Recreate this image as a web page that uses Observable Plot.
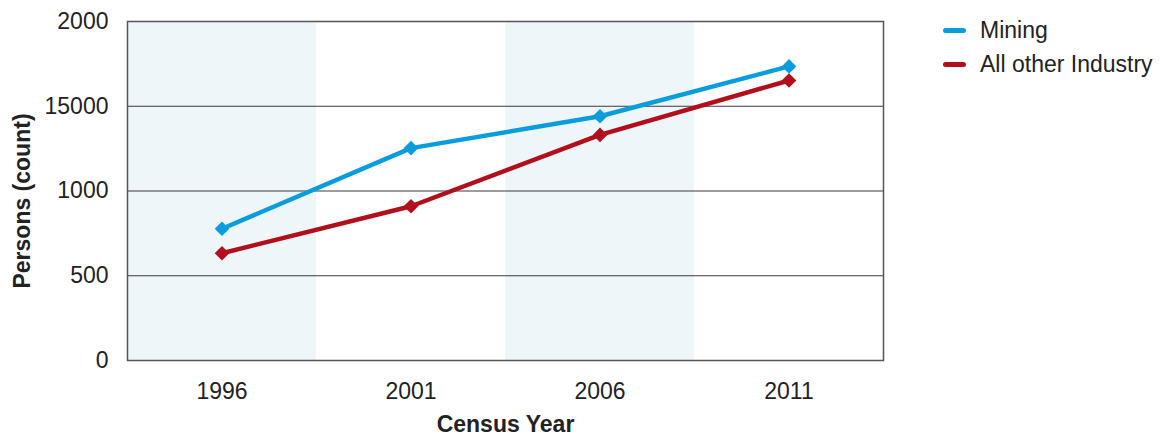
<!DOCTYPE html>
<html>
<head>
<meta charset="utf-8">
<script src="https://cdn.jsdelivr.net/npm/d3@7"></script>
<script src="https://cdn.jsdelivr.net/npm/@observablehq/plot@0.6"></script>
<style>
  html, body { margin: 0; padding: 0; background: #fff; }
  #wrap { position: relative; width: 1160px; height: 439px; font-family: "Liberation Sans", Arial, Helvetica, sans-serif; }
  #legend { position: absolute; left: 943px; top: 13px; font-size: 23px; color: #222; }
  .row { display: flex; align-items: center; height: 34px; }
  .sw { width: 23px; height: 5px; border-radius: 3px; margin-right: 14px; }
</style>
</head>
<body>
<div id="wrap"><div id="chart"></div><div id="legend"></div></div>
<script>
const years = [1996, 2001, 2006, 2011];
const mining = [777, 1253, 1441, 1735];
const otherIndustry = [633, 910, 1331, 1652];
const seriesNames = ["Mining", "All other Industry"];
const seriesColors = ["#0a9ddd", "#b20f1c"];
const shadedYears = [1996, 2006];
const yTicks = [0, 500, 1000, 1500, 2000];
const yTickLabels = ["0", "500", "1000", "15000", "2000"];
const gridValues = [500, 1000, 1500];

const half = (years[1] - years[0]) / 2;
const data = [];
years.forEach((yr, i) => {
  data.push({year: yr, value: mining[i], series: seriesNames[0]});
  data.push({year: yr, value: otherIndustry[i], series: seriesNames[1]});
});
const bands = shadedYears.map(y => ({x1: y - half, x2: y + half}));

const plot = Plot.plot({
  width: 900,
  height: 439,
  marginLeft: 127,
  marginRight: 17,
  marginTop: 21,
  marginBottom: 79,
  style: {fontFamily: '"Liberation Sans", Arial, Helvetica, sans-serif', fontSize: "23px", color: "#222", background: "#fff"},
  x: {domain: [years[0] - half, years[years.length - 1] + half]},
  y: {domain: [0, 2000]},
  color: {domain: seriesNames, range: seriesColors},
  marks: [
    Plot.rect(bands, {x1: "x1", x2: "x2", y1: 0, y2: 2000, fill: "#eef6fa"}),
    Plot.ruleY(gridValues, {stroke: "#3a3a3a", strokeWidth: 1}),
    Plot.frame({stroke: "#555", strokeWidth: 1.5}),
    Plot.axisX(years, {tickFormat: d => String(d), tickSize: 0, tickPadding: 22, fontSize: 23, label: null, fill: "#222"}),
    Plot.axisY(yTicks, {tickFormat: d => yTickLabels[yTicks.indexOf(d)], tickSize: 0, tickPadding: 19, fontSize: 23, label: null, fill: "#222"}),
    Plot.line(data, {x: "year", y: "value", z: "series", stroke: "series", strokeWidth: 4.5}),
    Plot.dot(data, {x: "year", y: "value", fill: "series", symbol: "diamond2", r: 6.6}),
    Plot.text(["Census Year"], {frameAnchor: "bottom", dy: 71, fontWeight: "bold", fontSize: 23, text: d => d, fill: "#222"}),
    Plot.text(["Persons (count)"], {frameAnchor: "left", textAnchor: "middle", dx: -105, dy: 10, rotate: -90, fontWeight: "bold", fontSize: 23, text: d => d, fill: "#222"})
  ]
});
document.getElementById("chart").appendChild(plot);

const legend = document.getElementById("legend");
seriesNames.forEach((name, i) => {
  const row = document.createElement("div");
  row.className = "row";
  const sw = document.createElement("span");
  sw.className = "sw";
  sw.style.background = seriesColors[i];
  const t = document.createElement("span");
  t.textContent = name;
  row.appendChild(sw);
  row.appendChild(t);
  legend.appendChild(row);
});
</script>
</body>
</html>
